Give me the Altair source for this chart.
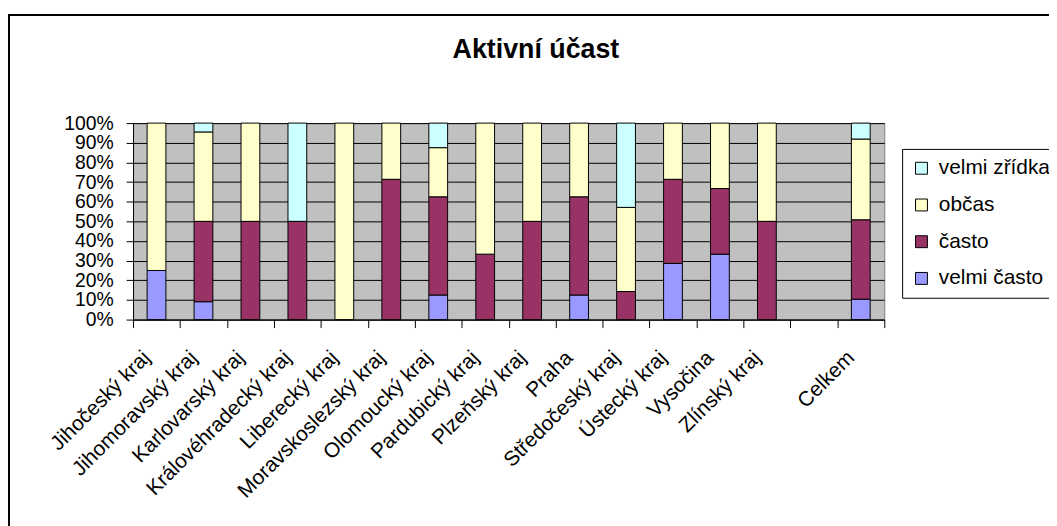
import altair as alt
import pandas as pd

categories = ["Jihočeský kraj", "Jihomoravský kraj", "Karlovarský kraj", "Královéhradecký kraj",
              "Liberecký kraj", "Moravskoslezský kraj", "Olomoucký kraj", "Pardubický kraj",
              "Plzeňský kraj", "Praha", "Středočeský kraj", "Ústecký kraj", "Vysočina",
              "Zlínský kraj", " ", "Celkem"]

series = ["velmi často", "často", "občas", "velmi zřídka"]
velmi_casto  = [25, 9.1, 0, 0, 0, 0, 12.5, 0, 0, 12.5, 0, 28.6, 33.3, 0, None, 10.4]
casto        = [0, 40.9, 50, 50, 0, 71.4, 50, 33.3, 50, 50, 14.3, 42.8, 33.4, 50, None, 40.4]
obcas        = [75, 45.5, 50, 0, 100, 28.6, 25, 66.7, 50, 37.5, 42.8, 28.6, 33.3, 50, None, 41.1]
velmi_zridka = [0, 4.5, 0, 50, 0, 0, 12.5, 0, 0, 0, 42.9, 0, 0, 0, None, 8.1]

legend_order = ["velmi zřídka", "občas", "často", "velmi často"]
legend_colors = ["#CCFFFF", "#FFFFCC", "#993366", "#9999FF"]
y_ticks = [0, 0.1, 0.2, 0.3, 0.4, 0.5, 0.6, 0.7, 0.8, 0.9, 1.0]
title_text = "Aktivní účast"

rows = []
for si, (name, vals) in enumerate(zip(series, [velmi_casto, casto, obcas, velmi_zridka])):
    for c, v in zip(categories, vals):
        if v:
            rows.append({"kraj": c, "odpoved": name, "podil": v, "poradi": si})
df = pd.DataFrame(rows)

FONT = "Liberation Sans"

bars = alt.Chart(df).mark_bar(
    width=alt.RelativeBandSize(0.4), stroke="black", strokeWidth=1
).encode(
    x=alt.X("kraj:N", sort=categories,
            scale=alt.Scale(domain=categories, paddingInner=0, paddingOuter=0),
            axis=alt.Axis(title=None, labelAngle=-45, labelAlign="right", labelBaseline="middle",
                          labelFontSize=21, labelFont=FONT, labelColor="black",
                          labelOffset=-10, labelPadding=27, labelLimit=0, labelOverlap=False,
                          tickBand="extent", tickSize=8, tickColor="black",
                          domainColor="black", grid=False)),
    y=alt.Y("podil:Q", stack="normalize", scale=alt.Scale(domain=[0, 1]),
            axis=alt.Axis(title=None, values=y_ticks, format=".0%", labelFontSize=19.5,
                          labelFont=FONT, labelColor="black", labelPadding=13,
                          labelOverlap=False, labelBaseline="middle",
                          tickSize=7, tickColor="black", domainColor="black",
                          grid=True, gridColor="black", gridOpacity=1, gridWidth=1)),
    color=alt.Color("odpoved:N",
                    scale=alt.Scale(domain=legend_order, range=legend_colors),
                    legend=alt.Legend(title=None, orient="none", legendX=775, legendY=26,
                                      direction="vertical", strokeColor="black",
                                      fillColor="white", padding=9,
                                      symbolType="square", symbolSize=144,
                                      symbolStrokeColor="black", symbolStrokeWidth=1,
                                      symbolOpacity=1,
                                      labelFontSize=21, labelFont=FONT, labelColor="black",
                                      labelOffset=7, rowPadding=15, labelLimit=0)),
    order=alt.Order("poradi:Q"),
)

frame = alt.Chart(pd.DataFrame({"f": [0]})).mark_rect(
    filled=False, stroke="black", strokeWidth=2
).encode(x=alt.value(-125), x2=alt.value(960), y=alt.value(-109), y2=alt.value(430))

title = alt.Chart(pd.DataFrame({"t": [title_text]})).mark_text(
    font=FONT, fontSize=27, fontWeight="bold", color="black",
    align="center", baseline="alphabetic"
).encode(text="t:N", x=alt.value(406), y=alt.value(-66))

chart = alt.layer(frame, bars, title).properties(
    width=757, height=198,
    autosize=alt.AutoSizeParams(type="none"),
    padding={"left": 126, "top": 114, "right": 166, "bottom": 206},
    background="white",
).configure_view(fill="#C0C0C0", stroke="#808080")

chart.save("out.html", embed_options={"renderer": "svg", "actions": False})
